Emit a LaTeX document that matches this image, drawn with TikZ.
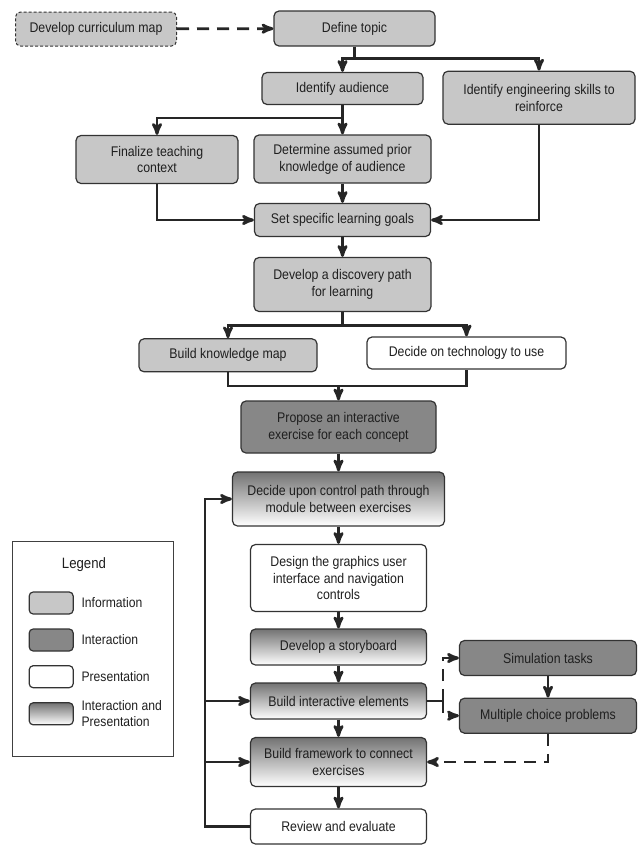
\documentclass[tikz,border=0pt]{standalone}
\usepackage{fontspec}
\setmainfont{Liberation Sans}[FakeStretch=0.88]
\usetikzlibrary{positioning}
\usetikzlibrary{arrows}
\usetikzlibrary{calc}
\tikzset{>=stealth'}
\tikzset{stepbox/.style={draw=black!80,line width=1.2pt,rounded corners=5pt,align=center,inner sep=2pt,text=black!88,font=\fontsize{14}{16.8}\selectfont}}
\tikzset{info/.style={stepbox,fill=black!22}}
\tikzset{inter/.style={stepbox,fill=black!47}}
\tikzset{pres/.style={stepbox,fill=white}}
\tikzset{interpres/.style={stepbox,top color=black!55,middle color=black!16,bottom color=white}}
\tikzset{flow/.style={draw=black!85,line width=2.8pt}}
\tikzset{dflow/.style={flow,dash pattern=on 12pt off 8pt}}
\tikzset{keytext/.style={anchor=west,text=black!88,font=\fontsize{13.8}{16}\selectfont,align=left}}

\begin{document}
\begin{tikzpicture}[x=1pt,y=-1pt]
\useasboundingbox (0,0) rectangle (642,849);

\node[info, dash pattern=on 3pt off 2pt, line width=1pt, minimum width=161, minimum height=34] (curr) at (96,29) {Develop curriculum map};
\node[info, minimum width=161, minimum height=35] (define) at (354.5,28.5) {Define topic};
\node[info, minimum width=161, minimum height=32] (audience) at (342.5,88.5) {Identify audience};
\node[info, minimum width=192, minimum height=53] (skills) at (539,97.7) {Identify engineering skills to\\reinforce};
\node[info, minimum width=162, minimum height=48] (finalize) at (157,159.5) {Finalize teaching\\context};
\node[info, minimum width=177, minimum height=48] (prior) at (342.5,159) {Determine assumed prior\\knowledge of audience};
\node[info, minimum width=176, minimum height=33] (goals) at (342.5,220) {Set specific learning goals};
\node[info, minimum width=177, minimum height=54] (discovery) at (342.5,284.5) {Develop a discovery path\\for learning};
\node[info, minimum width=178, minimum height=33] (knowledge) at (228,355.3) {Build knowledge map};
\node[pres, minimum width=199, minimum height=32] (technology) at (466.5,353) {Decide on technology to use};
\node[inter, minimum width=195, minimum height=52] (propose) at (338.5,427) {Propose an interactive\\exercise for each concept};
\node[interpres, minimum width=212, minimum height=54] (control) at (338.5,499) {Decide upon control path through\\module between exercises};
\node[pres, minimum width=176, minimum height=67] (design) at (338.5,578) {Design the graphics user\\interface and navigation\\controls};
\node[interpres, minimum width=176, minimum height=36] (storyboard) at (338.5,647) {Develop a storyboard};
\node[interpres, minimum width=176, minimum height=36] (interactive) at (338.5,701) {Build interactive elements};
\node[interpres, minimum width=176, minimum height=49] (framework) at (338.5,762) {Build framework to connect\\exercises};
\node[pres, minimum width=176, minimum height=35] (review) at (338.5,826.5) {Review and evaluate};
\node[inter, minimum width=177, minimum height=35] (simulation) at (548,658) {Simulation tasks};
\node[inter, minimum width=177, minimum height=35] (multiple) at (548,715.7) {Multiple choice problems};

\draw[dflow,->] (curr) -- (define);
\draw[flow,->] (define.south) -- ++(0,12) -| (audience.north);
\draw[flow,->] (define.south) -- ++(0,12) -| (skills.north);
\draw[flow,->] (audience.south) -- ++(0,12.8) -| (finalize.north);
\draw[flow,->] (audience) -- (prior);
\draw[flow,->] (prior) -- (goals);
\draw[flow,->] (finalize.south) |- (goals.west);
\draw[flow,->] (skills.south) |- (goals.east);
\draw[flow,->] (goals) -- (discovery);
\draw[flow,->] (discovery.south) -- ++(0,13.5) -| (knowledge.north);
\draw[flow,->] (discovery.south) -- ++(0,13.5) -| (technology.north);
\coordinate (merge) at (338.5,386);
\draw[flow] (knowledge.south) |- (merge) -| (technology.south);
\draw[flow,->] (merge) -- (propose.north);
\draw[flow,->] (propose) -- (control);
\draw[flow,->] (control) -- (design);
\draw[flow,->] (design) -- (storyboard);
\draw[flow,->] (storyboard) -- (interactive);
\draw[flow,->] (interactive) -- (framework);
\draw[flow,->] (framework) -- (review);

\coordinate (loop) at (205,499);
\draw[flow,->] (review.west) -| (loop) -- (control.west);
\draw[flow,->] (loop |- interactive) -- (interactive.west);
\draw[flow,->] (loop |- framework) -- (framework.west);

\coordinate (split) at (443,701);
\draw[flow] (interactive.east) -- (split);
\draw[dflow,->] (split) |- (simulation.west);
\draw[dflow,->] (split) |- (multiple.west);
\draw[flow,->] (simulation) -- (multiple);
\draw[dflow,->] (multiple.south) |- (framework.east);

\node[draw=black!75, line width=1pt, minimum width=161, minimum height=215] (legend) at (92.8,649.2) {};
\node[text=black!88, font=\fontsize{15}{17}\selectfont] (legendtitle) at (84,565) {Legend};
\node[info, rounded corners=4pt, minimum width=44, minimum height=22] (keyinfo) at (51.2,603) {};
\node[inter, rounded corners=4pt, minimum width=44, minimum height=22] (keyinter) at (51.2,640) {};
\node[pres, rounded corners=4pt, minimum width=44, minimum height=22] (keypres) at (51.2,676.7) {};
\node[interpres, rounded corners=4pt, minimum width=44, minimum height=22] (keyboth) at (51.2,713.8) {};
\node[keytext] (keyinfotext) at (78,603) {Information};
\node[keytext] (keyintertext) at (78,640) {Interaction};
\node[keytext] (keyprestext) at (78,676.7) {Presentation};
\node[keytext] (keybothtext) at (78,713.8) {Interaction and\\Presentation};
\end{tikzpicture}
\end{document}
